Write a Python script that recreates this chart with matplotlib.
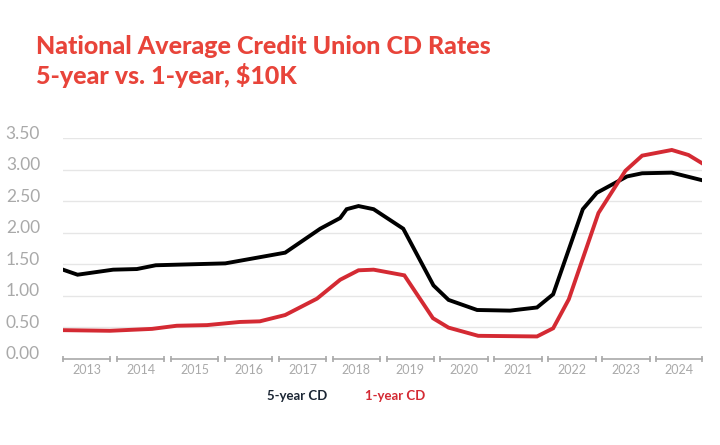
import matplotlib.pyplot as plt
from matplotlib.transforms import ScaledTranslation

# 5-year CD (fractional year, rate %)
five_x = [2013.00, 2013.27, 2013.93, 2014.37, 2014.72, 2016.01, 2017.12, 2017.77,
          2018.14, 2018.26, 2018.48, 2018.76, 2019.31, 2019.87, 2020.15, 2020.68,
          2021.29, 2021.79, 2022.09, 2022.64, 2022.90, 2023.46, 2023.74, 2024.29, 2024.85]
five_y = [1.41, 1.33, 1.41, 1.42, 1.48, 1.51, 1.68, 2.06,
          2.23, 2.37, 2.42, 2.37, 2.06, 1.16, 0.93, 0.77,
          0.76, 0.81, 1.02, 2.37, 2.63, 2.89, 2.94, 2.95, 2.83]

# 1-year CD
one_x = [2013.00, 2013.87, 2014.65, 2015.11, 2015.67, 2016.28, 2016.65, 2017.12, 2017.71,
         2018.14, 2018.48, 2018.76, 2019.33, 2019.86, 2020.15, 2020.70, 2021.79,
         2022.09, 2022.38, 2022.93, 2023.43, 2023.74, 2024.29, 2024.60, 2024.85]
one_y = [0.45, 0.44, 0.47, 0.52, 0.53, 0.58, 0.59, 0.69, 0.95,
         1.25, 1.40, 1.41, 1.32, 0.64, 0.49, 0.36, 0.35,
         0.48, 0.94, 2.31, 2.98, 3.22, 3.31, 3.23, 3.10]

years = list(range(2013, 2025))
yticks = [0.0, 0.5, 1.0, 1.5, 2.0, 2.5, 3.0, 3.5]

red = '#e8443a'
gray = '#a9a9a9'
x_end = 2024.85

fig = plt.figure(figsize=(7.2, 4.45), dpi=100)
ax = fig.add_axes([63 / 720, (445 - 358.5) / 445, (702 - 63) / 720, (358.5 - 138) / 445])

for g in yticks[1:]:
    ax.axhline(g, color='#e6e6e6', lw=1, zorder=0)

ax.plot(five_x, five_y, color='black', lw=2.8, solid_joinstyle='miter', zorder=3)
ax.plot(one_x, one_y, color='#d42a33', lw=2.8, solid_joinstyle='miter', zorder=3)

ax.set_xlim(2013, x_end)
ax.set_ylim(0, 3.5)
for s in ax.spines.values():
    s.set_visible(False)
ax.set_xticks([])
ax.set_yticks(yticks)
ax.set_yticklabels([f'{v:.2f}' for v in yticks], fontsize=12.5, color=gray,
                   fontfamily='Lato')
ax.tick_params(axis='y', length=0, pad=16.5)
# labels sit a little above their gridlines in the original
shift = ScaledTranslation(0, 4 / 72, fig.dpi_scale_trans)
for lbl in ax.get_yticklabels():
    lbl.set_transform(lbl.get_transform() + shift)

# bracket-style year segments
for yr in years:
    x0, x1 = yr, min(yr + 0.88, x_end)
    ax.plot([x0, x1], [0, 0], color=gray, lw=1.2, clip_on=False, zorder=2)
    ax.plot([x0, x1], [0, 0], ls='none', marker='|', ms=5, mew=1.2, color=gray,
            clip_on=False, zorder=2)
    ax.text((x0 + x1) / 2, -0.18, str(yr), ha='center', va='center', fontsize=9,
            color=gray, fontfamily='Lato')

fig.text(36 / 720, 1 - 47 / 445, 'National Average Credit Union CD Rates', color=red,
         fontsize=18, fontweight='black', fontfamily='Lato', va='center')
fig.text(36 / 720, 1 - 75 / 445, '5-year vs. 1-year, $10K', color=red,
         fontsize=18, fontweight='black', fontfamily='Lato', va='center')

fig.text(267 / 720, 1 - 396 / 445, '5-year CD', color='#1b2634', fontsize=9.5,
         fontweight='bold', fontfamily='Lato', va='center')
fig.text(365 / 720, 1 - 396 / 445, '1-year CD', color='#d42a33', fontsize=9.5,
         fontweight='bold', fontfamily='Lato', va='center')

fig.savefig('out.png', dpi=100)
